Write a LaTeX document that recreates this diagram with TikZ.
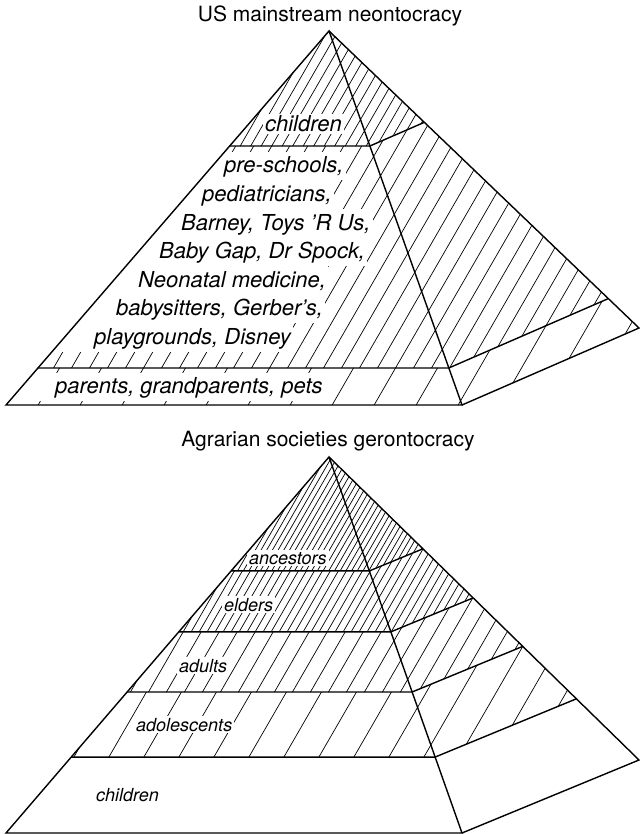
\documentclass[tikz,border=0pt]{standalone}
\usepackage{fontspec}
\setmainfont{TeX Gyre Heros}
\usetikzlibrary{calc}
\newcommand\hatchit[5]{%
  \begin{scope}
    \clip #1;
    \foreach \i in {0,...,#4} {
      \pgfmathsetmacro\cc{#2+\i*#3}
      \draw[hatchline] ({\cc-0.5774*(#5+25)},{#5+25}) -- ({\cc-0.5774*(#5+410)},{#5+410});
    }
  \end{scope}}
\begin{document}
\begin{tikzpicture}[x=1pt,y=-1pt,
  outline/.style={line width=1.4pt, line join=miter},
  hatchline/.style={line width=0.7pt},
  ttl/.style={font=\fontsize{21}{25}\selectfont, anchor=base, inner sep=0pt},
  big/.style={font=\fontsize{22}{26}\selectfont\itshape, anchor=base west, fill=white, inner xsep=2pt, inner ysep=0pt},
  midline/.style={big, text height=21pt, text depth=7.5pt},
  small/.style={font=\fontsize{18}{22}\selectfont\itshape, anchor=base west, fill=white, inner sep=2pt}]
\useasboundingbox (0,0) rectangle (639,834);
\coordinate (O) at (0,0);

% ---------- top pyramid ----------
\coordinate (A1) at (329,31);
\coordinate (BL1) at (6,405);
\coordinate (FR1) at (462,405);
\coordinate (R1) at (639,328);
\foreach \n/\t in {a/0.3075,b/0.901} {
  \coordinate (L1\n) at ($(A1)!\t!(BL1)$);
  \coordinate (F1\n) at ($(A1)!\t!(FR1)$);
  \coordinate (B1\n) at ($(A1)!\t!(R1)$);
}
\hatchit{(A1) -- (L1a) -- (F1a) -- (B1a) -- cycle}{230}{10.5}{59}{0}
\hatchit{(L1a) -- (L1b) -- (F1b) -- (B1b) -- (B1a) -- (F1a) -- cycle}{230}{18}{34}{0}
\hatchit{(L1b) -- (BL1) -- (FR1) -- (R1) -- (B1b) -- (F1b) -- cycle}{230}{42}{15}{0}

\node[ttl] (t1) at (330,22) {US mainstream neontocracy};
\node[big, inner sep=2pt] (c1) at (263,132) {children};

\node[midline] (m1) at (222,173) {pre-schools,};
\node[midline] (m2) at (200,201.5) {pediatricians,};
\node[midline] (m3) at (179,230) {Barney, Toys 'R Us,};
\node[midline] (m4) at (157,258.5) {Baby Gap, Dr Spock,};
\node[midline] (m5) at (136,287) {Neonatal medicine,};
\node[midline] (m6) at (114,315.5) {babysitters, Gerber's,};
\node[midline] (m7) at (92,344) {playgrounds, Disney};
\foreach \m in {m1,m2,m3,m4,m5,m6,m7} {
  \fill[white] (\m.north west -| O) rectangle (\m.south west);
}
\node[big, text height=20pt, text depth=8pt] (p1) at (53,393) {parents, grandparents, pets};
\fill[white] (p1.north west -| O) rectangle (p1.south west);

\draw[outline] (A1) -- (BL1) -- (FR1) -- cycle;
\draw[outline] (A1) -- (R1) -- (FR1);
\draw[outline] (L1a) -- (F1a) -- (B1a);
\draw[outline] (L1b) -- (F1b) -- (B1b);

% ---------- bottom pyramid ----------
\coordinate (A2) at (329,457);
\coordinate (BL2) at (6,833);
\coordinate (FR2) at (462,833);
\coordinate (R2) at (639,760);
\foreach \n/\t in {a/0.303,b/0.465,c/0.625,d/0.798} {
  \coordinate (L2\n) at ($(A2)!\t!(BL2)$);
  \coordinate (F2\n) at ($(A2)!\t!(FR2)$);
  \coordinate (B2\n) at ($(A2)!\t!(R2)$);
}
\hatchit{(A2) -- (L2a) -- (F2a) -- (B2a) -- cycle}{476}{5.7}{107}{426}
\hatchit{(L2a) -- (L2b) -- (F2b) -- (B2b) -- (B2a) -- (F2a) -- cycle}{476}{8}{77}{426}
\hatchit{(L2b) -- (L2c) -- (F2c) -- (B2c) -- (B2b) -- (F2b) -- cycle}{476}{18}{34}{426}
\hatchit{(L2c) -- (L2d) -- (F2d) -- (B2d) -- (B2c) -- (F2c) -- cycle}{476}{35}{18}{426}

\node[ttl] (t2) at (328,446) {Agrarian societies gerontocracy};
\node[small] (s1) at (247,564) {ancestors};
\node[small] (s2) at (222,611) {elders};
\node[small] (s3) at (177,672) {adults};
\node[small] (s4) at (134,731) {adolescents};
\node[small, fill=none] (s5) at (94,801) {children};

\draw[outline] (A2) -- (BL2) -- (FR2) -- cycle;
\draw[outline] (A2) -- (R2) -- (FR2);
\foreach \n in {a,b,c,d} {
  \draw[outline] (L2\n) -- (F2\n) -- (B2\n);
}
\end{tikzpicture}
\end{document}
